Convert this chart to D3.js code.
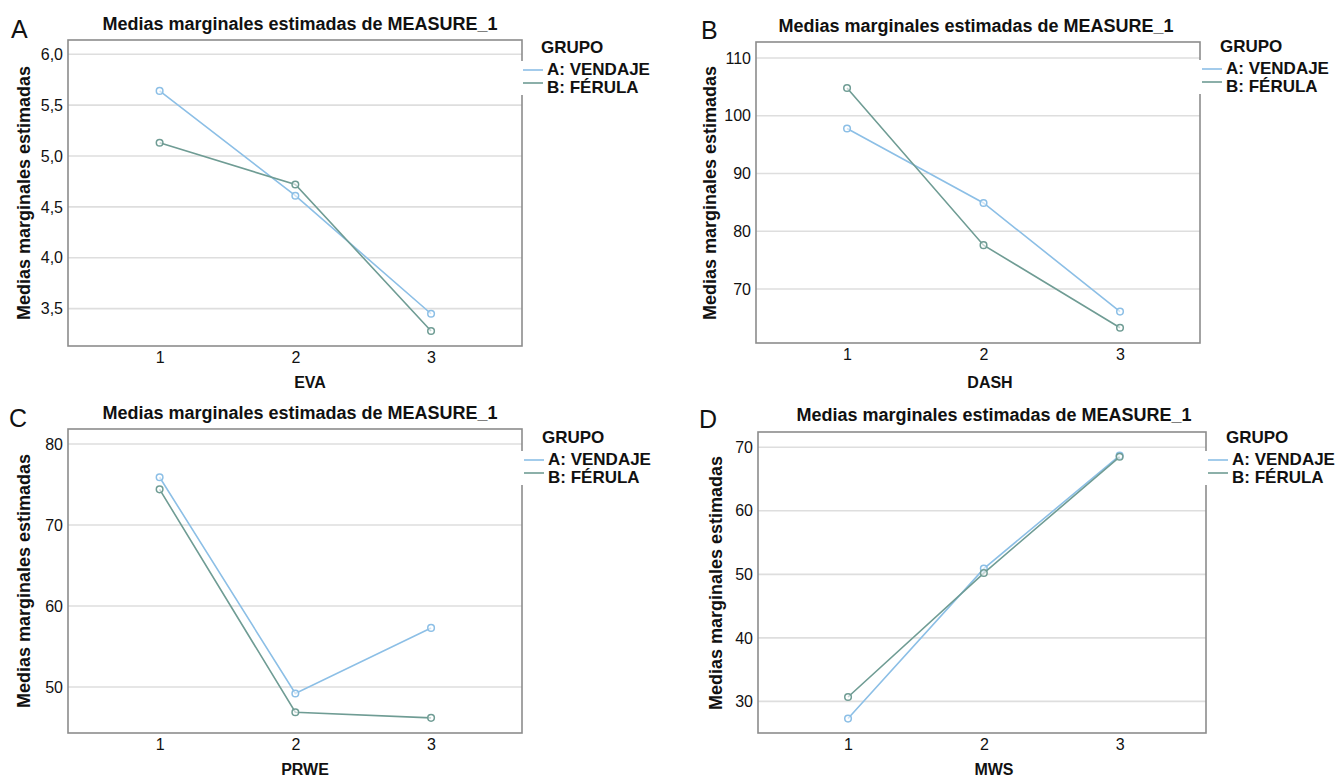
<!DOCTYPE html>
<html lang="es">
<head>
<meta charset="UTF-8">
<title>Medias marginales estimadas</title>
<script src="https://cdn.jsdelivr.net/npm/d3@7"></script>
<style>
  body { margin: 0; background: #fff; }
  text { font-family: "Liberation Sans", Arial, sans-serif; fill: #111; }
</style>
</head>
<body>
<svg id="chart" width="1341" height="778"></svg>
<script>
// data
const groups = ["A: VENDAJE", "B: FÉRULA"];
const times = [1, 2, 3];

const evaVendaje = [5.64, 4.61, 3.45];
const evaFerula = [5.13, 4.72, 3.28];
const evaTicks = [3.5, 4.0, 4.5, 5.0, 5.5, 6.0];

const dashVendaje = [97.8, 84.9, 66.1];
const dashFerula = [104.8, 77.6, 63.3];
const dashTicks = [70, 80, 90, 100, 110];

const prweVendaje = [75.9, 49.2, 57.3];
const prweFerula = [74.4, 46.9, 46.2];
const prweTicks = [50, 60, 70, 80];

const mwsVendaje = [27.3, 50.9, 68.7];
const mwsFerula = [30.7, 50.2, 68.5];
const mwsTicks = [30, 40, 50, 60, 70];

const colors = ["#8cbfe6", "#6f9c94"];

// panel layout (pixels)
const panels = [
  { letter: "A", xTitle: "EVA", vend: evaVendaje, fer: evaFerula, ticks: evaTicks, dec: true,
    L: 68, R: 522, T: 40, B: 346, yDom: [3.133, 6.14], xDom: [0.325, 3.67],
    lx: 11, ly: 38, tx: 300, ty: 30, yx: 24, yy: 193, xx: 310, xy: 388,
    legX: 523, legY: 47 },
  { letter: "B", xTitle: "DASH", vend: dashVendaje, fer: dashFerula, ticks: dashTicks, dec: false,
    L: 756, R: 1200, T: 42, B: 343, yDom: [60.66, 112.77], xDom: [0.333, 3.586],
    lx: 701, ly: 39, tx: 976, ty: 32, yx: 710, yy: 193, xx: 990, xy: 388,
    legX: 1202, legY: 46 },
  { letter: "C", xTitle: "PRWE", vend: prweVendaje, fer: prweFerula, ticks: prweTicks, dec: false,
    L: 68, R: 522, T: 429, B: 733, yDom: [44.33, 81.85], xDom: [0.325, 3.67],
    lx: 9, ly: 427, tx: 300, ty: 419, yx: 24, yy: 581, xx: 305, xy: 775,
    legX: 524, legY: 437 },
  { letter: "D", xTitle: "MWS", vend: mwsVendaje, fer: mwsFerula, ticks: mwsTicks, dec: false,
    L: 758, R: 1206, T: 432, B: 733, yDom: [25.03, 72.4], xDom: [0.337, 3.636],
    lx: 699, ly: 428, tx: 994, ty: 421, yx: 716, yy: 583, xx: 994, xy: 775,
    legX: 1208, legY: 437 }
];

const svg = d3.select("#chart");
svg.append("rect").attr("width", 1341).attr("height", 778).attr("fill", "#fff");

const esFormat = d3.formatLocale({ decimal: ",", thousands: ".", grouping: [3], currency: ["", " €"] });

panels.forEach(p => {
  const g = svg.append("g");
  const x = d3.scaleLinear().domain(p.xDom).range([p.L, p.R]);
  const y = d3.scaleLinear().domain(p.yDom).range([p.B, p.T]);

  // grid lines
  g.selectAll(".grid").data(p.ticks).enter().append("line")
    .attr("x1", p.L).attr("x2", p.R)
    .attr("y1", d => y(d)).attr("y2", d => y(d))
    .attr("stroke", "#dedede").attr("stroke-width", 1.6);

  // plot frame
  g.append("rect")
    .attr("x", p.L).attr("y", p.T)
    .attr("width", p.R - p.L).attr("height", p.B - p.T)
    .attr("fill", "none").attr("stroke", "#8c8c8c").attr("stroke-width", 1.6);

  // y axis labels
  const yAxis = d3.axisLeft(y).tickValues(p.ticks).tickSize(0).tickPadding(5)
    .tickFormat(p.dec ? esFormat.format(".1f") : d3.format("d"));
  const ya = g.append("g").attr("transform", `translate(${p.L},0)`).call(yAxis);
  ya.select(".domain").remove();
  ya.selectAll("text").attr("font-size", 16).attr("font-family", "Liberation Sans, Arial, sans-serif").attr("fill", "#222");

  // x axis labels
  const xAxis = d3.axisBottom(x).tickValues(times).tickSize(0).tickPadding(6).tickFormat(d3.format("d"));
  const xa = g.append("g").attr("transform", `translate(0,${p.B})`).call(xAxis);
  xa.select(".domain").remove();
  xa.selectAll("text").attr("font-size", 16).attr("font-family", "Liberation Sans, Arial, sans-serif").attr("fill", "#222");

  // series
  const line = d3.line().x((d, i) => x(times[i])).y(d => y(d));
  [p.vend, p.fer].forEach((vals, k) => {
    g.append("path").datum(vals)
      .attr("d", line)
      .attr("fill", "none").attr("stroke", colors[k]).attr("stroke-width", 1.6);
    g.selectAll(".pt" + k).data(vals).enter().append("circle")
      .attr("cx", (d, i) => x(times[i])).attr("cy", d => y(d))
      .attr("r", 3.3)
      .attr("fill", "#fff").attr("fill-opacity", 0.6)
      .attr("stroke", colors[k]).attr("stroke-width", 1.5);
  });

  // texts
  g.append("text").attr("x", p.lx).attr("y", p.ly).text(p.letter)
    .attr("font-size", 25);
  g.append("text").attr("x", p.tx).attr("y", p.ty).text("Medias marginales estimadas de MEASURE_1")
    .attr("text-anchor", "middle").attr("font-size", 18).attr("font-weight", "bold");
  g.append("text").attr("transform", `translate(${p.yx},${p.yy}) rotate(-90)`)
    .attr("dy", "0.35em").attr("text-anchor", "middle")
    .attr("font-size", 18).attr("font-weight", "bold")
    .text("Medias marginales estimadas");
  g.append("text").attr("x", p.xx).attr("y", p.xy).text(p.xTitle)
    .attr("text-anchor", "middle").attr("font-size", 16).attr("font-weight", "bold");

  // legend
  const leg = g.append("g");
  leg.append("rect")
    .attr("x", p.legX - 3).attr("y", p.legY + 14)
    .attr("width", 125).attr("height", 34).attr("fill", "#fff");
  leg.append("text").attr("x", p.legX + 18).attr("y", p.legY).attr("dy", "0.35em")
    .attr("font-size", 17).attr("font-weight", "bold").text("GRUPO");
  groups.forEach((name, k) => {
    const ty = p.legY + 22 + k * 18;
    leg.append("line")
      .attr("x1", p.legX).attr("x2", p.legX + 20)
      .attr("y1", ty + 1 - k * 5).attr("y2", ty + 1 - k * 5)
      .attr("stroke", colors[k]).attr("stroke-width", 1.6);
    leg.append("text").attr("x", p.legX + 24).attr("y", ty).attr("dy", "0.35em")
      .attr("font-size", 17).attr("font-weight", "bold").text(name);
  });
});
</script>
</body>
</html>
